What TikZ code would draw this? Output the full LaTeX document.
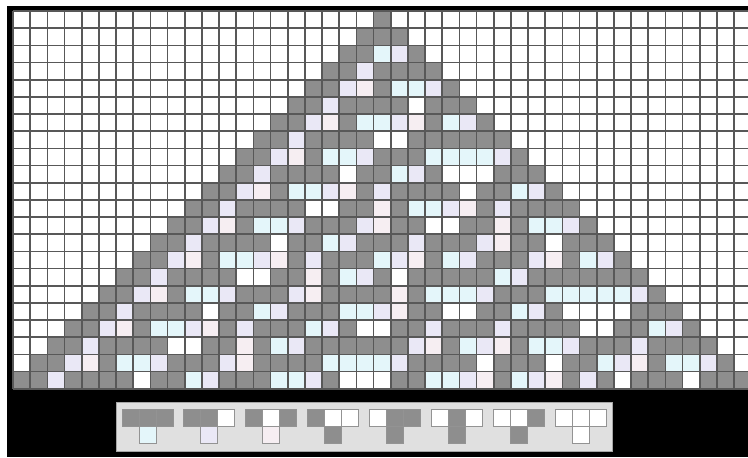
\documentclass[tikz,border=0pt]{standalone}
\usepackage{tikz}

\definecolor{cellon}{RGB}{142,142,142}
\definecolor{gridline}{RGB}{88,88,88}
\definecolor{tintA}{RGB}{228,246,250}% left by 111
\definecolor{tintB}{RGB}{234,232,246}% left by 110
\definecolor{tintC}{RGB}{246,238,242}% left by 101
\definecolor{panelbg}{RGB}{224,224,224}

% value of cell (row,col), 0 off the grid
\newcommand\cagetcell[3]{%
  \ifcsname ca@#2@#3\endcsname
    \edef#1{\csname ca@#2@#3\endcsname}%
  \else
    \def#1{0}%
  \fi}

% rule 30: new value and colour for a neighbourhood code
\newcommand\caruleset[1]{%
  \ifcase#1 \def\newv{0}\def\fillc{white}%
  \or \def\newv{1}\def\fillc{cellon}%
  \or \def\newv{1}\def\fillc{cellon}%
  \or \def\newv{1}\def\fillc{cellon}%
  \or \def\newv{1}\def\fillc{cellon}%
  \or \def\newv{0}\def\fillc{tintC}%
  \or \def\newv{0}\def\fillc{tintB}%
  \or \def\newv{0}\def\fillc{tintA}%
  \fi}

\begin{document}
\begin{tikzpicture}[x=0.3mm,y=-0.3mm,
    gridrule/.style={draw=gridline,line width=0.5mm},
    iconbox/.style={draw=gray!85,line width=0.3mm}]
  \useasboundingbox (0,0) rectangle (748,457);
  \clip (0,0) rectangle (748,457);
  \fill[black] (7,6) rectangle (748,457);
  \fill[white] (13,11) rectangle (760,388.74);

  % first row: one cell on
  \foreach \c in {0,...,42} {
    \ifnum\c=21 \def\newv{1}\else\def\newv{0}\fi
    \expandafter\xdef\csname ca@0@\c\endcsname{\newv}
  }
  \fill[cellon] ({13+17.17*21},11) rectangle +(17.17,17.17);

  % the other rows
  \foreach \r in {1,...,21} {
    \foreach \c in {0,...,42} {
      \pgfmathtruncatemacro\pr{\r-1}
      \pgfmathtruncatemacro\nl{\c-1}
      \pgfmathtruncatemacro\nrt{\c+1}
      \cagetcell\lv{\pr}{\nl}
      \cagetcell\mv{\pr}{\c}
      \cagetcell\rv{\pr}{\nrt}
      \pgfmathtruncatemacro\cacode{4*\lv+2*\mv+\rv}
      \caruleset{\cacode}
      \expandafter\xdef\csname ca@\r @\c\endcsname{\newv}
      \fill[\fillc] ({13+17.17*\c},{11+17.17*\r}) rectangle +(17.17,17.17);
    }
  }

  % grid lines
  \foreach \c in {0,...,43}
    \draw[gridrule] ({13+17.17*\c},11) -- ({13+17.17*\c},388.74);
  \foreach \r in {0,...,22}
    \draw[gridrule] (13,{11+17.17*\r}) -- (760,{11+17.17*\r});

  % rule panel
  \filldraw[fill=panelbg,draw=gray!70,line width=0.3mm] (116,402) rectangle (612,451);
  \foreach \k in {0,...,7} {
    \pgfmathtruncatemacro\pat{7-\k}
    \pgfmathsetmacro\ix{122+61.9*\k}
    \foreach \b/\bit in {0/4,1/2,2/1} {
      \pgfmathtruncatemacro\on{mod(floor(\pat/\bit),2)}
      \ifnum\on=1 \def\topc{cellon}\else\def\topc{white}\fi
      \filldraw[iconbox,fill=\topc] ({\ix+17*\b},409.5) rectangle +(17,17);
    }
    \caruleset{\pat}
    \filldraw[iconbox,fill=\fillc] ({\ix+17},426.5) rectangle +(17,17);
  }
\end{tikzpicture}
\end{document}
